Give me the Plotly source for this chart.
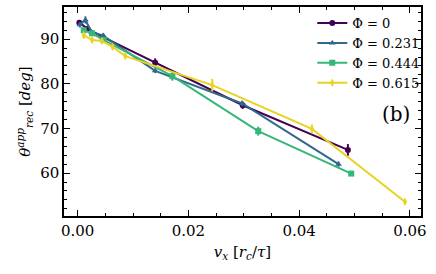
import plotly.graph_objects as go

labels = ["Φ = 0", "Φ = 0.231", "Φ = 0.444", "Φ = 0.615"]
colors = ["#440154", "#31688e", "#35b779", "#e8d323"]
symbols = ["circle", "triangle-up", "square", "diamond-tall"]

vx_0 = [0.0003, 0.0018, 0.0045, 0.0140, 0.0298, 0.0488]
th_0 = [93.7, 92.3, 90.5, 84.7, 75.2, 65.2]
er_0 = [0.6, 0.5, 0.5, 1.0, 0.8, 1.3]

vx_1 = [0.0004, 0.0014, 0.0025, 0.0046, 0.0140, 0.0297, 0.0471]
th_1 = [93.2, 94.3, 91.6, 90.8, 82.9, 75.6, 62.0]
er_1 = [0.6, 0.8, 0.5, 0.5, 0.5, 0.6, 0.6]

vx_2 = [0.0011, 0.0026, 0.0047, 0.0171, 0.0326, 0.0494]
th_2 = [92.0, 91.3, 89.8, 81.7, 69.4, 59.9]
er_2 = [0.6, 0.6, 0.6, 1.0, 1.0, 0.5]

vx_3 = [0.0011, 0.0026, 0.0044, 0.0063, 0.0086, 0.0243, 0.0423, 0.0591]
th_3 = [90.9, 89.8, 89.6, 88.3, 86.2, 79.7, 69.9, 53.6]
er_3 = [0.8, 0.6, 0.6, 0.6, 0.6, 1.4, 1.0, 0.6]

x_ticks = [0.0, 0.02, 0.04, 0.06]
x_ticktext = ["0.00", "0.02", "0.04", "0.06"]
y_ticks = [60, 70, 80, 90]

series = [(vx_0, th_0, er_0), (vx_1, th_1, er_1), (vx_2, th_2, er_2), (vx_3, th_3, er_3)]

FONT = "DejaVu Serif"
XR = [-0.00247, 0.062]
YR = [50.4, 97.2]

fig = go.Figure()
for (x, y, e), lab, col, sym in zip(series, labels, colors, symbols):
    fig.add_trace(go.Scatter(
        x=x, y=y, name=lab, mode="lines+markers",
        line=dict(color=col, width=2),
        marker=dict(color=col, symbol=sym, size=6),
        error_y=dict(type="data", array=e, visible=True, color=col, thickness=2, width=0),
    ))

# invisible trace to carry the mirrored (top/right) axes
fig.add_trace(go.Scatter(x=[XR[0]], y=[YR[0]], xaxis="x2", yaxis="y2",
                         mode="markers", marker=dict(opacity=0), showlegend=False,
                         hoverinfo="skip"))

axis_common = dict(
    showline=True, linecolor="black", linewidth=1.5,
    ticks="inside", ticklen=6, tickwidth=1.3, tickcolor="black",
    showgrid=False, zeroline=False,
    tickfont=dict(family=FONT, size=15, color="black"),
)
xminor = dict(dtick=0.005, tick0=0, ticks="inside", ticklen=3, tickwidth=1, tickcolor="black")
yminor = dict(dtick=2, tick0=0, ticks="inside", ticklen=3, tickwidth=1, tickcolor="black")

fig.update_layout(
    xaxis=dict(range=XR, tickvals=x_ticks, ticktext=x_ticktext, minor=xminor,
               title=dict(text="<i>v<sub>x</sub></i> [<i>r<sub>c</sub></i>/<i>τ</i>]",
                          font=dict(family=FONT, size=15, color="black"), standoff=8),
               **axis_common),
    yaxis=dict(range=YR, tickvals=y_ticks, minor=yminor,
               title=dict(text="<i>θ<sup>app</sup><sub>rec</sub></i> [<i>deg</i>]",
                          font=dict(family=FONT, size=15, color="black"), standoff=6),
               **axis_common),
    xaxis2=dict(range=XR, tickvals=x_ticks, minor=xminor, overlaying="x", side="top",
                showticklabels=False, **axis_common),
    yaxis2=dict(range=YR, tickvals=y_ticks, minor=yminor, overlaying="y", side="right",
                showticklabels=False, **axis_common),
)

fig.add_annotation(text="(b)", xref="paper", yref="paper", x=0.976, y=0.49,
                   showarrow=False, font=dict(family=FONT, size=20, color="black"))

fig.update_layout(
    width=436, height=274,
    margin=dict(l=64, r=15, t=7, b=58),
    plot_bgcolor="white", paper_bgcolor="white",
    showlegend=True,
    legend=dict(x=1.012, y=0.995, xanchor="right", yanchor="top",
                bgcolor="rgba(0,0,0,0)", font=dict(family=FONT, size=13, color="black"),
                itemwidth=30, tracegroupgap=0),
)

fig.write_html("out.html", config={"displayModeBar": False},
               post_script="document.body.style.margin='0';document.body.style.padding='0';")
